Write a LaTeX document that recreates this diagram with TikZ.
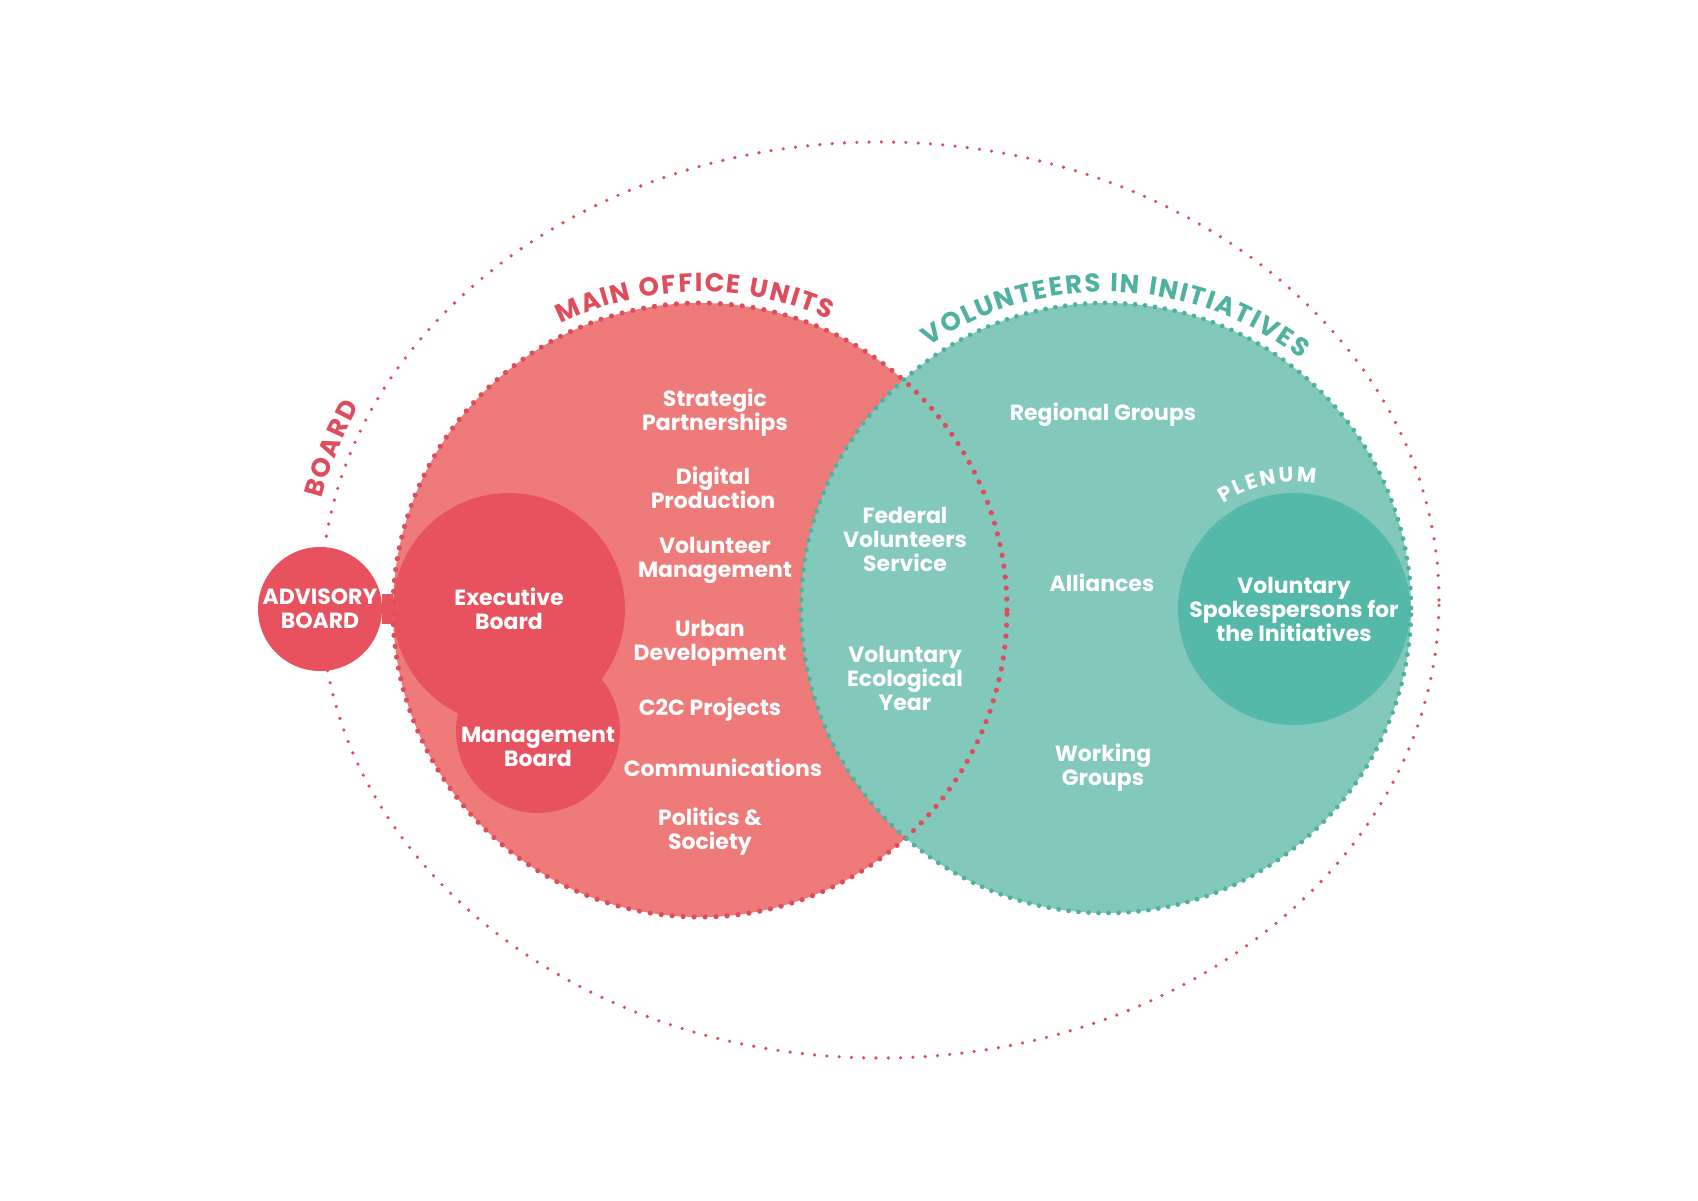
\documentclass[tikz,border=0pt]{standalone}
\usepackage{fontspec}
\setmainfont{Poppins}
\usepackage{tikz}
\usetikzlibrary{decorations.text}
\definecolor{unitred}{HTML}{EE7A7A}
\definecolor{boardred}{HTML}{E8525F}
\definecolor{dotred}{HTML}{DF4C5B}
\definecolor{initteal}{HTML}{82C8BB}
\definecolor{plenumteal}{HTML}{54B9A8}
\definecolor{dotteal}{HTML}{4FB2A0}
\newcommand{\labelfont}{\bfseries\fontsize{11}{12}\selectfont}
\newcommand{\titlefont}{\bfseries\fontsize{13}{13}\selectfont}
\tikzstyle{unitcircle} = [circle, minimum size=307pt, inner sep=0pt, fill=unitred]
\tikzstyle{initcircle} = [circle, minimum size=305pt, inner sep=0pt, fill=initteal]
\tikzstyle{boardcircle} = [circle, inner sep=0pt, fill=boardred, text=white, align=center, font=\labelfont]
\tikzstyle{plenumcircle} = [circle, minimum size=116pt, inner sep=0pt, fill=plenumteal, text=white, align=center, font=\labelfont]
\tikzstyle{unit} = [text=white, align=center, font=\labelfont, inner sep=0pt]
\tikzstyle{reddots} = [draw=dotred, line width=2.6pt, dash pattern=on 0pt off 5.5pt, line cap=round]
\tikzstyle{tealdots} = [draw=dotteal, line width=2.4pt, dash pattern=on 0pt off 5pt, line cap=round]
\tikzstyle{outerdots} = [draw=dotred, line width=1.8pt, dash pattern=on 0pt off 6.15pt, line cap=round]
\tikzstyle{boardlink} = [draw=boardred, line width=15pt]
\tikzset{arctitle/.style n args={4}{decorate, decoration={text effects along path, text={#1}, text align=center,
  text effects/.cd, text along path, characters={text=#2, font=#3, inner sep=0pt}, character widths={font=#3, inner xsep=#4pt}}}}

\begin{document}
\begin{tikzpicture}[x=0.5pt, y=0.5pt]
\fill[white] (0,0) rectangle (1698,-1200);
\useasboundingbox (0,0) rectangle (1698,-1200);

\coordinate (ring) at (880,-600);
\draw[outerdots] (ring) ellipse [x radius=559, y radius=458];

\node (main) [unitcircle] at (700,-610) {};
\node (initiatives) [initcircle] at (1106,-608) {};

\node (mgmt) [boardcircle, minimum size=82pt] at (538,-731) {};
\node (exec) [boardcircle, minimum size=116pt] at (509,-609) {Executive\\Board};
\node (mgmtlabel) [unit] at (538,-747) {Management\\Board};
\node (advisory) [boardcircle, minimum size=62pt] at (320,-609) {ADVISORY\\BOARD};
\node (plenum) [plenumcircle] at (1294,-609) {Voluntary\\Spokespersons for\\the Initiatives};

\draw[reddots] (main.center) circle [radius=307];
\draw[tealdots] (initiatives.center) circle [radius=305];
\draw[boardlink] (advisory.east) -- (exec.west);

\node (strategic) [unit] at (715,-413) {Strategic\\Partnerships};
\node (digital) [unit] at (713,-488) {Digital\\Production};
\node (volmgmt) [unit] at (715,-560) {Volunteer\\Management};
\node (urban) [unit] at (710,-643) {Urban\\Development};
\node (c2c) [unit] at (710,-710) {C2C Projects};
\node (comms) [unit] at (723,-768) {Communications};
\node (politics) [unit] at (710,-832) {Politics \&\\Society};
\node (federal) [unit] at (905,-539) {Federal\\Volunteers\\Service};
\node (ecoyear) [unit] at (905,-678) {Voluntary\\Ecological\\Year};
\node (regional) [unit] at (1103,-415) {Regional Groups};
\node (alliances) [unit] at (1102,-583) {Alliances};
\node (working) [unit] at (1103,-768) {Working\\Groups};

\path[arctitle={MAIN OFFICE UNITS}{dotred}{\titlefont}{0.45}] (main.center) ++(151:318) arc [start angle=151, end angle=31, radius=318];
\path[arctitle={VOLUNTEERS IN INITIATIVES}{dotteal}{\titlefont}{0.46}] (initiatives.center) ++(148:316) arc [start angle=148, end angle=28, radius=316];
\path[arctitle={PLENUM}{white}{\bfseries\fontsize{10.5}{10.5}\selectfont}{0.6}] (plenum.center) ++(162:127) arc [start angle=162, end angle=42, radius=127];
\path[arctitle={BOARD}{dotred}{\titlefont}{0.5}] (ring) ++(182:572 and 471) arc [start angle=182, end angle=142, x radius=572, y radius=471];
\end{tikzpicture}
\end{document}
